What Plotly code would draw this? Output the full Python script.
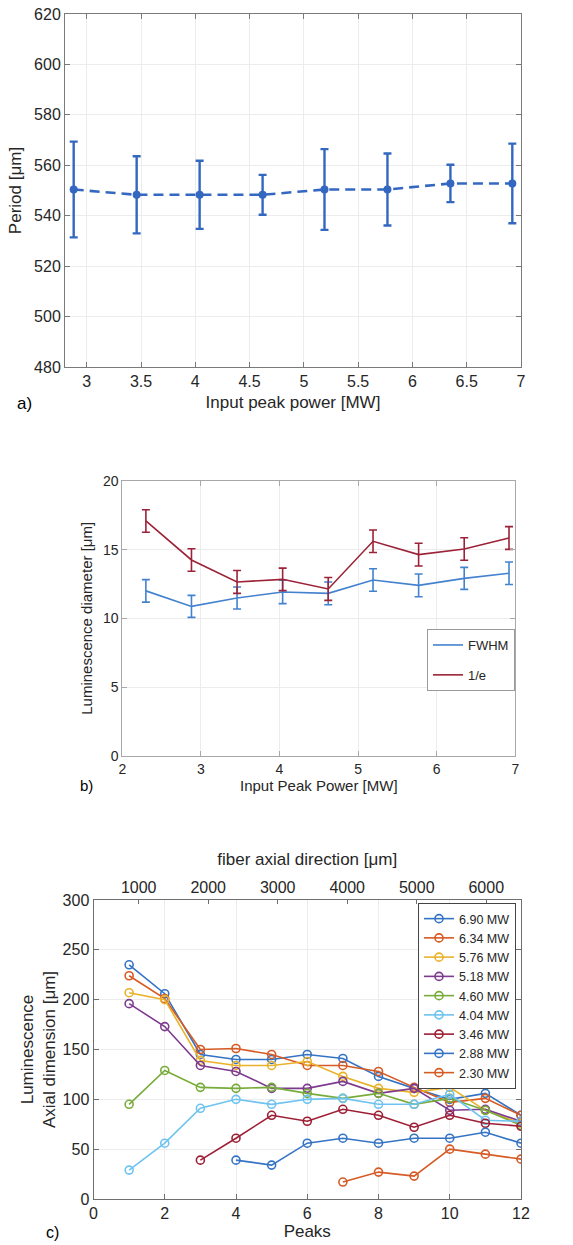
import plotly.graph_objects as go

W, H = 573, 1245
FONT = "Liberation Sans, Arial, sans-serif"
TXT = "#262626"

# ---------------- Panel a data ----------------
a_power = [2.88, 3.46, 4.04, 4.62, 5.19, 5.77, 6.35, 6.92]
a_period = [550.4, 548.3, 548.3, 548.3, 550.4, 550.4, 552.8, 552.8]
a_err = [19.0, 15.3, 13.5, 7.9, 16.0, 14.3, 7.4, 15.8]

# ---------------- Panel b data ----------------
b_power = [2.30, 2.88, 3.46, 4.04, 4.62, 5.19, 5.77, 6.35, 6.92]
b_fwhm = [12.0, 10.87, 11.48, 11.92, 11.82, 12.79, 12.40, 12.91, 13.28]
b_fwhm_err = [0.82, 0.80, 0.80, 0.85, 0.83, 0.82, 0.83, 0.80, 0.82]
b_inve = [17.09, 14.25, 12.65, 12.84, 12.14, 15.61, 14.64, 15.05, 15.85]
b_inve_err = [0.82, 0.82, 0.83, 0.82, 0.83, 0.82, 0.83, 0.82, 0.83]

# ---------------- Panel c data ----------------
c_labels = ["6.90 MW", "6.34 MW", "5.76 MW", "5.18 MW", "4.60 MW",
            "4.04 MW", "3.46 MW", "2.88 MW", "2.30 MW"]
c_peaks = [
    [1, 2, 3, 4, 5, 6, 7, 8, 9, 10, 11, 12],
    [1, 2, 3, 4, 5, 6, 7, 8, 9, 10, 11, 12],
    [1, 2, 3, 4, 5, 6, 7, 8, 9, 10, 11, 12],
    [1, 2, 3, 4, 5, 6, 7, 8, 9, 10, 11, 12],
    [1, 2, 3, 4, 5, 6, 7, 8, 9, 10, 11, 12],
    [1, 2, 3, 4, 5, 6, 7, 8, 9, 10, 11, 12],
    [3, 4, 5, 6, 7, 8, 9, 10, 11, 12],
    [4, 5, 6, 7, 8, 9, 10, 11, 12],
    [7, 8, 9, 10, 11, 12],
]
c_values = [
    [235, 206, 145, 140, 140, 145, 141, 123, 111, 100, 106, 84],
    [224, 201, 150, 151, 145, 134, 134, 128, 112, 97, 101, 84],
    [207, 200, 139, 134, 134, 138, 123, 111, 107, 112, 89, 76],
    [196, 173, 134, 128, 111, 111, 118, 106, 111, 89, 90, 78],
    [95, 129, 112, 111, 112, 106, 101, 106, 95, 101, 89, 74],
    [29, 56, 91, 100, 95, 100, 101, 95, 95, 105, 79, 78],
    [39, 61, 84, 78, 90, 84, 72, 84, 76, 73],
    [39, 34, 56, 61, 56, 61, 61, 67, 56],
    [17, 27, 23, 50, 45, 40],
]
c_colors = ["#3574C4", "#D65A24", "#E9B22A", "#7D3A8F", "#78AC3A",
            "#6EC3F0", "#9E1F35", "#3574C4", "#D65A24"]
top_ticks = [1000, 2000, 3000, 4000, 5000, 6000]


def px_x(p):
    return p / W


def px_y(p):
    return 1 - p / H


fig = go.Figure()

# Panel a
A_BLUE = "#3468C0"
fig.add_trace(go.Scatter(
    x=a_power, y=a_period, mode="lines+markers",
    line=dict(color=A_BLUE, width=2.6, dash="10px,6px"),
    marker=dict(color=A_BLUE, size=8),
    error_y=dict(type="data", array=a_err, visible=True, color=A_BLUE,
                 thickness=2.4, width=4),
    xaxis="x", yaxis="y", showlegend=False, hoverinfo="x+y"))

# Panel b
B_BLUE = "#4482CF"
B_RED = "#9C2237"
fig.add_trace(go.Scatter(
    x=b_power, y=b_fwhm, mode="lines", name="FWHM",
    line=dict(color=B_BLUE, width=1.6),
    error_y=dict(type="data", array=b_fwhm_err, visible=True, color=B_BLUE,
                 thickness=1.6, width=4),
    xaxis="x2", yaxis="y2", legend="legend", legendgroup="g1"))
fig.add_trace(go.Scatter(
    x=b_power, y=b_inve, mode="lines", name="1/e",
    line=dict(color=B_RED, width=1.6),
    error_y=dict(type="data", array=b_inve_err, visible=True, color=B_RED,
                 thickness=1.6, width=4),
    xaxis="x2", yaxis="y2", legend="legend", legendgroup="g2"))

# Panel c
for lab, xs, ys, col in zip(c_labels, c_peaks, c_values, c_colors):
    fig.add_trace(go.Scatter(
        x=xs, y=ys, mode="lines+markers", name=lab,
        line=dict(color=col, width=1.6),
        marker=dict(symbol="circle-open", size=8, color=col,
                    line=dict(width=1.6, color=col)),
        xaxis="x3", yaxis="y3", legend="legend2"))

# helper trace so the top axis is drawn
fig.add_trace(go.Scatter(
    x=top_ticks, y=[None] * len(top_ticks), mode="lines",
    xaxis="x4", yaxis="y3", showlegend=False, hoverinfo="skip"))

GRID = "#ECECEC"


def ax_common(size, linecolor, tsize=None):
    return dict(showline=True, linecolor=linecolor, linewidth=1,
                mirror="ticks", ticks="inside", ticklen=5, tickcolor=linecolor,
                showgrid=True, gridcolor=GRID, gridwidth=1, zeroline=False,
                automargin=False,
                tickfont=dict(family=FONT, size=size, color=TXT),
                title_font=dict(family=FONT, size=tsize or size + 1, color=TXT))


fig.update_layout(
    width=W, height=H, margin=dict(l=0, r=0, t=0, b=0),
    paper_bgcolor="white", plot_bgcolor="white",
    font=dict(family=FONT, color=TXT),
    xaxis=dict(domain=[px_x(65), px_x(521)], anchor="y",
               range=[2.8, 7.0], tickvals=[3, 3.5, 4, 4.5, 5, 5.5, 6, 6.5, 7],
               ticktext=["3", "3.5", "4", "4.5", "5", "5.5", "6", "6.5", "7"],
               title=dict(text="Input peak power [MW]", standoff=6),
               **ax_common(16, "#7A7A7A")),
    yaxis=dict(domain=[px_y(367), px_y(14)], anchor="x",
               range=[480, 620], tickvals=[480, 500, 520, 540, 560, 580, 600, 620],
               title=dict(text="Period [μm]", standoff=8),
               **ax_common(16, "#7A7A7A")),
    xaxis2=dict(domain=[px_x(122.3), px_x(515.3)], anchor="y2",
                range=[2, 7], tickvals=[2, 3, 4, 5, 6, 7],
                title=dict(text="Input Peak Power [MW]", standoff=2),
                **ax_common(14, "#A8A8A8", 15)),
    yaxis2=dict(domain=[px_y(755.7), px_y(481)], anchor="x2",
                range=[0, 20], tickvals=[0, 5, 10, 15, 20],
                title=dict(text="Luminescence diameter [μm]", standoff=6),
                **ax_common(14, "#A8A8A8", 15)),
    xaxis3=dict(domain=[px_x(93.5), px_x(521)], anchor="y3",
                range=[0, 12], tickvals=[0, 2, 4, 6, 8, 10, 12],
                title=dict(text="Peaks", standoff=2),
                **{**ax_common(16, "#6E6E6E"), "mirror": False}),
    xaxis4=dict(overlaying="x3", side="top", anchor="y3",
                range=[350, 6500], tickvals=top_ticks,
                showline=True, linecolor="#6E6E6E", linewidth=1,
                ticks="inside", ticklen=4, tickcolor="#6E6E6E",
                showgrid=False, zeroline=False, automargin=False,
                tickfont=dict(family=FONT, size=16, color=TXT),
                title=dict(text="fiber axial direction [μm]", standoff=8,
                           font=dict(family=FONT, size=17, color=TXT))),
    yaxis3=dict(domain=[px_y(1199), px_y(900)], anchor="x3",
                range=[0, 300], tickvals=[0, 50, 100, 150, 200, 250, 300],
                title=dict(text="Luminescence<br>Axial dimension [μm]", standoff=2),
                **ax_common(16, "#6E6E6E")),
    legend=dict(x=px_x(427), y=px_y(629), xanchor="left", yanchor="top",
                bgcolor="white", bordercolor="#9A9A9A", borderwidth=1,
                font=dict(family=FONT, size=13, color=TXT),
                tracegroupgap=10, itemwidth=30),
    legend2=dict(x=px_x(516), y=px_y(903), xanchor="right", yanchor="top",
                 bgcolor="white", bordercolor="#444444", borderwidth=1,
                 font=dict(family=FONT, size=12.5, color=TXT),
                 tracegroupgap=0, itemwidth=30),
    annotations=[
        dict(text="a)", x=px_x(15), y=px_y(403), xref="paper", yref="paper",
             xanchor="left", yanchor="middle", showarrow=False,
             font=dict(family=FONT, size=17, color="black")),
        dict(text="b)", x=px_x(78), y=px_y(786), xref="paper", yref="paper",
             xanchor="left", yanchor="middle", showarrow=False,
             font=dict(family=FONT, size=15, color="black")),
        dict(text="c)", x=px_x(44), y=px_y(1232), xref="paper", yref="paper",
             xanchor="left", yanchor="middle", showarrow=False,
             font=dict(family=FONT, size=16, color="black")),
    ],
)

fig.write_html("out.html",
               config={"displayModeBar": False},
               post_script="document.body.style.margin='0';"
                           "document.body.style.padding='0';")
